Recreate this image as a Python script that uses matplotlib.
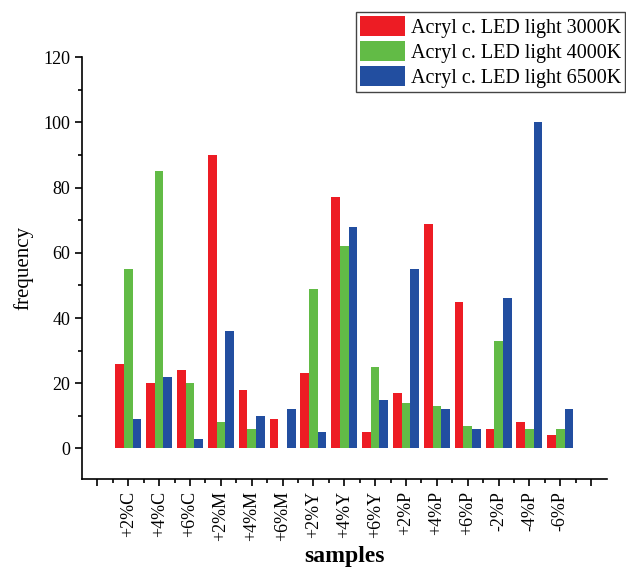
import matplotlib
matplotlib.use("Agg")
import matplotlib.pyplot as plt
import numpy as np
from matplotlib.ticker import MultipleLocator, FixedLocator

plt.rcParams['font.family'] = ['Liberation Serif', 'DejaVu Serif']

categories = ['+2%C', '+4%C', '+6%C', '+2%M', '+4%M', '+6%M', '+2%Y', '+4%Y',
              '+6%Y', '+2%P', '+4%P', '+6%P', '-2%P', '-4%P', '-6%P']
led_3000k = [26, 20, 24, 90, 18, 9, 23, 77, 5, 17, 69, 45, 6, 8, 4]
led_4000k = [55, 85, 20, 8, 6, 0, 49, 62, 25, 14, 13, 7, 33, 6, 6]
led_6500k = [9, 22, 3, 36, 10, 12, 5, 68, 15, 55, 12, 6, 46, 100, 12]
series_names = ['Acryl c. LED light 3000K', 'Acryl c. LED light 4000K',
                'Acryl c. LED light 6500K']
colors = ['#ED1C24', '#62BB46', '#224EA0']

fig = plt.figure(figsize=(6.26, 5.70), dpi=100)
ax = fig.add_axes([0.131, 0.159, 0.838, 0.7405])

x = np.arange(1, len(categories) + 1)
w = 0.28
for i, (vals, name, c) in enumerate(zip([led_3000k, led_4000k, led_6500k], series_names, colors)):
    ax.bar(x + (i - 1) * w, vals, width=w, color=c, label=name, linewidth=0)

ax.set_xlim(-0.5, 16.5)
ax.set_ylim(-9.5, 120)
ax.spines['top'].set_visible(False)
ax.spines['right'].set_visible(False)
for s in ['left', 'bottom']:
    ax.spines[s].set_linewidth(1.2)

ax.yaxis.set_minor_locator(MultipleLocator(10))
ax.set_yticks([0, 20, 40, 60, 80, 100, 120])
ax.xaxis.set_major_locator(FixedLocator(np.arange(0, 17)))
ax.xaxis.set_minor_locator(FixedLocator(np.arange(0.5, 16.5, 1.0)))
ax.set_xticklabels([''] + categories + [''], rotation=90, fontsize=13)
ax.tick_params(axis='both', which='major', direction='out', length=5, width=1.2, labelsize=13)
ax.tick_params(axis='both', which='minor', direction='out', length=3, width=1.2)

ax.set_ylabel('frequency', fontsize=15)
ax.set_xlabel('samples', fontsize=17, fontweight='bold')
ax.yaxis.set_label_coords(-0.093, 0.5)
ax.xaxis.set_label_coords(0.5, -0.157)

leg = fig.legend(loc='upper right', bbox_to_anchor=(625 / 626, 1 - 12 / 570),
                 bbox_transform=fig.transFigure, borderaxespad=0, fontsize=14.5,
                 handlelength=2.2, handleheight=1.15, labelspacing=0.15,
                 handletextpad=0.3, borderpad=0.2, fancybox=False, framealpha=1)
leg.get_frame().set_edgecolor('#444444')
leg.get_frame().set_linewidth(1.0)

fig.savefig('out.png', dpi=100)
